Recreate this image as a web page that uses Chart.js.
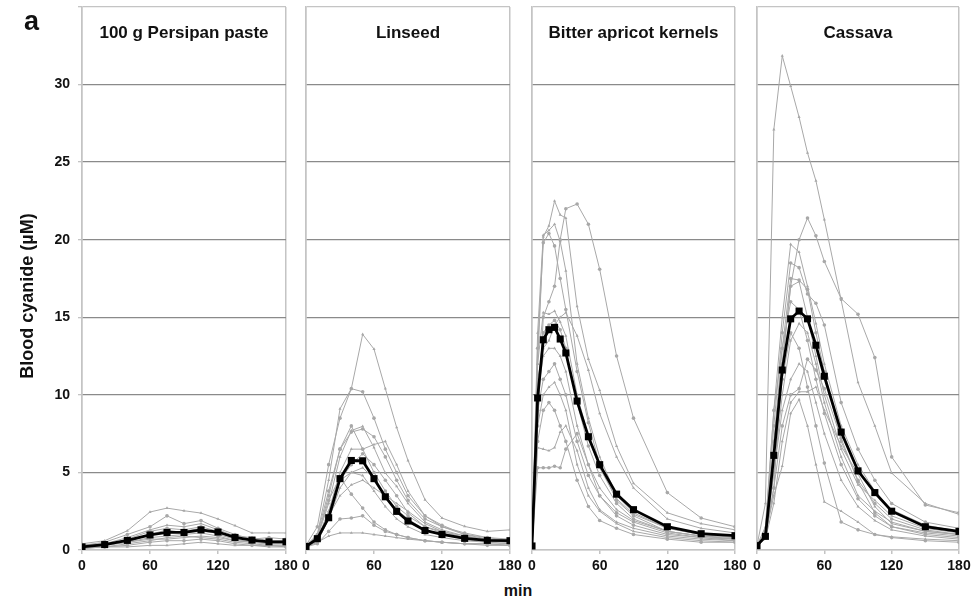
<!DOCTYPE html>
<html>
<head>
<meta charset="utf-8">
<script src="https://cdn.jsdelivr.net/npm/chart.js@4"></script>
<style>
  html, body { margin: 0; padding: 0; background: #fff; }
  #wrap { position: relative; width: 974px; height: 605px; overflow: hidden; font-family: "Liberation Sans", Arial, sans-serif; font-weight: bold; color: #111; }
  canvas { position: absolute; top: 0; }
  .ttl { position: absolute; top: 23px; font-size: 17px; text-align: center; white-space: nowrap; }
  #lab-a { position: absolute; left: 24px; top: 6px; font-size: 27px; }
  #ytitle { position: absolute; left: 27px; top: 296px; font-size: 18px; white-space: nowrap; transform: translate(-50%, -50%) rotate(-90deg); }
  #xtitle { position: absolute; left: 518px; top: 582px; font-size: 16px; transform: translateX(-50%); }
</style>
</head>
<body>
<div id="wrap">
  <canvas id="c0"></canvas><canvas id="c1"></canvas><canvas id="c2"></canvas><canvas id="c3"></canvas>
  <div id="lab-a">a</div>
  <div id="ytitle">Blood cyanide (µM)</div>
  <div id="xtitle">min</div>
</div>
<script>
// ---- data (µM blood cyanide vs. minutes after ingestion) ----
const TITLES = ['100 g Persipan paste', 'Linseed', 'Bitter apricot kernels', 'Cassava'];
const Y_TICKS = [0, 5, 10, 15, 20, 25, 30];
const X_TICKS = [0, 60, 120, 180];

const T_PERSIPAN = [0, 20, 40, 60, 75, 90, 105, 120, 135, 150, 165, 180];
const MEAN_PERSIPAN = [0.2, 0.35, 0.62, 0.97, 1.13, 1.13, 1.3, 1.16, 0.81, 0.64, 0.53, 0.53];
const SUBJ_PERSIPAN = [
  [0.4, 0.6, 1.24, 2.45, 2.7, 2.53, 2.38, 2.0, 1.57, 1.1, 1.1, 1.1],
  [0.3, 0.5, 1.0, 1.5, 2.2, 1.7, 1.9, 1.4, 1.0, 0.7, 0.8, 0.7],
  [0.3, 0.4, 0.8, 1.3, 1.6, 1.5, 1.7, 1.3, 0.9, 0.8, 0.6, 0.6],
  [0.2, 0.3, 0.7, 1.2, 1.4, 1.3, 1.5, 1.2, 0.8, 0.6, 0.5, 0.5],
  [0.2, 0.3, 0.5, 1.0, 1.1, 1.2, 1.4, 1.0, 0.7, 0.5, 0.5, 0.4],
  [0.2, 0.3, 0.5, 0.8, 0.9, 1.0, 1.1, 0.9, 0.6, 0.5, 0.4, 0.4],
  [0.2, 0.2, 0.4, 0.6, 0.8, 0.9, 0.8, 0.7, 0.5, 0.4, 0.3, 0.3],
  [0.1, 0.2, 0.3, 0.5, 0.6, 0.6, 0.7, 0.6, 0.4, 0.3, 0.3, 0.2],
  [0.1, 0.2, 0.2, 0.3, 0.3, 0.4, 0.5, 0.4, 0.3, 0.3, 0.2, 0.2],
  [0.2, 0.3, 0.6, 1.0, 1.3, 1.1, 1.2, 1.1, 0.8, 0.6, 0.5, 0.5],
  [0.3, 0.4, 0.5, 0.7, 0.7, 0.8, 0.9, 0.8, 0.6, 0.5, 0.4, 0.4],
];

const T_LINSEED = [0, 10, 20, 30, 40, 50, 60, 70, 80, 90, 105, 120, 140, 160, 180];
const MEAN_LINSEED = [0.23, 0.73, 2.08, 4.6, 5.77, 5.75, 4.6, 3.43, 2.49, 1.87, 1.26, 1.0, 0.75, 0.62, 0.6];
const SUBJ_LINSEED = [
  [0.3, 1.0, 4.5, 9.1, 10.4, 13.9, 12.95, 10.4, 7.9, 5.77, 3.24, 2.06, 1.52, 1.2, 1.3],
  [0.3, 1.5, 5.5, 8.5, 10.4, 10.2, 8.5, 6.5, 5.0, 3.5, 2.2, 1.6, 1.0, 0.7, 0.6],
  [0.2, 0.8, 3.0, 6.0, 7.7, 7.97, 6.6, 4.96, 4.1, 3.0, 1.8, 1.3, 0.9, 0.7, 0.6],
  [0.2, 0.8, 3.5, 6.5, 7.6, 7.8, 7.3, 6.0, 4.5, 3.2, 2.0, 1.5, 1.1, 0.8, 0.7],
  [0.2, 0.7, 2.5, 5.0, 6.5, 6.5, 6.8, 7.0, 5.5, 3.8, 2.2, 1.5, 1.0, 0.8, 0.6],
  [0.2, 0.5, 2.0, 4.5, 5.5, 6.2, 5.5, 4.5, 3.5, 2.4, 1.5, 1.1, 0.8, 0.6, 0.5],
  [0.2, 0.6, 2.5, 4.5, 5.0, 4.8, 3.8, 2.8, 2.0, 1.5, 1.0, 0.8, 0.6, 0.5, 0.4],
  [0.2, 0.9, 3.2, 4.7, 3.6, 2.7, 1.8, 1.3, 1.0, 0.8, 0.6, 0.5, 0.4, 0.4, 0.3],
  [0.2, 0.5, 0.9, 1.1, 1.1, 1.1, 1.0, 0.9, 0.8, 0.7, 0.6, 0.5, 0.4, 0.4, 0.3],
  [0.2, 0.4, 1.2, 2.0, 2.06, 2.2, 1.6, 1.2, 1.0, 0.8, 0.6, 0.5, 0.4, 0.3, 0.3],
  [0.2, 0.6, 2.0, 4.0, 5.0, 5.3, 4.6, 3.5, 2.6, 2.0, 1.3, 1.0, 0.7, 0.5, 0.4],
  [0.2, 1.0, 3.8, 6.5, 8.0, 6.5, 5.0, 3.8, 2.8, 2.2, 1.5, 1.2, 0.9, 0.6, 0.5],
  [0.2, 0.7, 2.2, 3.5, 4.2, 4.5, 4.0, 3.5, 3.0, 2.5, 1.7, 1.2, 0.8, 0.6, 0.5],
];

const T_APRICOT = [0, 5, 10, 15, 20, 25, 30, 40, 50, 60, 75, 90, 120, 150, 180];
const MEAN_APRICOT = [0.26, 9.8, 13.55, 14.2, 14.35, 13.6, 12.7, 9.6, 7.3, 5.5, 3.6, 2.6, 1.5, 1.05, 0.92];
const SUBJ_APRICOT = [
  [0.3, 12, 20.2, 20.9, 22.5, 21.6, 21.4, 15.7, 12.3, 10.3, 6.7, 4.3, 2.4, 1.7, 1.3],
  [0.3, 8, 15, 16, 17, 20, 22, 22.3, 21, 18.1, 12.5, 8.5, 3.7, 2.06, 1.5],
  [0.3, 14, 20.3, 20.6, 21, 19.9, 18, 12, 8.5, 6, 3.5, 2.4, 1.4, 1.0, 0.8],
  [0.3, 13, 19.8, 20.4, 19.6, 17.5, 15.5, 11.5, 8.2, 5.5, 3.2, 2.2, 1.2, 0.9, 0.7],
  [0.3, 12, 15.3, 15.2, 15.4, 14.7, 13.8, 10, 7.3, 5.3, 3.3, 2.3, 1.4, 1.0, 0.9],
  [0.3, 10, 14, 14.5, 14.8, 14.2, 13, 9.5, 6.7, 4.8, 3.0, 2.0, 1.2, 0.9, 0.8],
  [0.3, 6.6, 6.5, 6.4, 6.6, 7.6, 8.0, 6.4, 4.0, 2.6, 1.8, 1.4, 0.9, 0.7, 0.6],
  [0.3, 5.3, 5.3, 5.3, 5.4, 5.3, 6.5, 7.5, 5.5, 3.5, 2.2, 1.6, 1.0, 0.8, 0.6],
  [0.3, 11, 13, 13.5, 14.5, 15, 15.3, 13.8, 11.6, 8.8, 6.0, 4.0, 2.0, 1.4, 1.1],
  [0.3, 9, 11, 11.5, 12, 11, 10, 7, 4.8, 3.5, 2.4, 1.8, 1.1, 0.8, 0.7],
  [0.3, 8, 10, 10.5, 10.8, 10, 9, 5.5, 3.5, 2.5, 1.7, 1.2, 0.8, 0.6, 0.5],
  [0.3, 7, 9, 9.5, 9.0, 8.0, 7.0, 4.5, 2.8, 1.9, 1.4, 1.0, 0.7, 0.5, 0.5],
  [0.3, 10, 12.5, 13, 13, 12.5, 11.5, 8.0, 5.5, 4.0, 2.6, 1.9, 1.2, 0.9, 0.7],
];

const T_CASSAVA = [0, 7.5, 15, 22.5, 30, 37.5, 45, 52.5, 60, 75, 90, 105, 120, 150, 180];
const MEAN_CASSAVA = [0.28, 0.88, 6.1, 11.6, 14.9, 15.4, 14.9, 13.2, 11.2, 7.6, 5.1, 3.7, 2.5, 1.5, 1.2];
const SUBJ_CASSAVA = [
  [0.3, 3, 27.1, 31.85, 29.9, 27.9, 25.6, 23.8, 21.3, 16.1, 10.8, 8.0, 4.96, 3.0, 2.3],
  [0.3, 0.8, 4, 12, 17, 20, 21.4, 20.25, 18.6, 16.2, 15.2, 12.4, 6.0, 2.9, 2.4],
  [0.3, 1.5, 9, 15, 19.7, 19.2, 17, 14.6, 12, 8, 5.5, 3.8, 2.6, 1.6, 1.2],
  [0.3, 1.2, 8, 14, 18.5, 18.2, 16.5, 15.9, 14.5, 9.5, 6.5, 4.5, 3.0, 1.8, 1.4],
  [0.3, 0.8, 6, 12, 17, 17.3, 15, 12.5, 10, 6.5, 4.2, 3.2, 2.2, 1.4, 1.1],
  [0.3, 1.0, 7, 13, 17.5, 17.4, 16.8, 14, 11.5, 7.0, 4.5, 3.0, 2.0, 1.3, 1.0],
  [0.3, 1.0, 3.5, 5.4, 8.8, 9.7, 8.0, 5.5, 3.1, 2.5, 1.8, 1.0, 0.85, 0.7, 0.6],
  [0.3, 0.9, 4, 8, 10, 10.4, 12.3, 11.6, 10.4, 7.2, 4.4, 2.4, 1.5, 1.1, 0.9],
  [0.3, 0.7, 3, 7, 9.5, 10.2, 10.2, 10.5, 9.0, 6.7, 4.9, 2.8, 1.7, 1.2, 1.0],
  [0.3, 1.2, 9, 13, 16, 15.5, 13.5, 11, 8.8, 5.5, 3.3, 2.2, 1.5, 1.0, 0.8],
  [0.3, 0.9, 5, 10, 13.5, 14.6, 14, 12, 9.5, 6.0, 3.5, 2.5, 1.8, 1.2, 1.0],
  [0.3, 1.0, 6, 11, 14, 13, 10.5, 8, 5.6, 1.8, 1.3, 1.0, 0.8, 0.6, 0.5],
  [0.3, 0.8, 5, 9, 11, 12, 11.5, 9.5, 7.5, 4.5, 2.8, 1.9, 1.3, 0.9, 0.7],
];

// ---- layout: plot-area left/right edges of each panel ----
const PANELS = [
  { l: 82, r: 286, t: T_PERSIPAN, mean: MEAN_PERSIPAN, subj: SUBJ_PERSIPAN },
  { l: 306, r: 510, t: T_LINSEED, mean: MEAN_LINSEED, subj: SUBJ_LINSEED },
  { l: 532, r: 735, t: T_APRICOT, mean: MEAN_APRICOT, subj: SUBJ_APRICOT },
  { l: 757, r: 959, t: T_CASSAVA, mean: MEAN_CASSAVA, subj: SUBJ_CASSAVA },
];
const PLOT_TOP = 7, PLOT_BOTTOM = 550, CANVAS_H = 578, PAD_R = 14, PAD_L = 8;
const GRID = '#8a8a8a', FRAME = '#c4c4c4', SUBJ_COL = '#a8a8a8';
const FONT = { family: '"Liberation Sans", Arial, sans-serif', size: 14, weight: 'bold' };

const pts = (t, ys) => ys.map((y, i) => ({ x: t[i], y }));
// label overhang would otherwise shift the plot area; the fixed paddings cover it
const noPad = (s) => { s.paddingTop = 0; s.paddingBottom = 0; s.paddingLeft = 0; s.paddingRight = 0; };

PANELS.forEach((p, k) => {
  const first = k === 0;
  const cv = document.getElementById('c' + k);
  const left = first ? 0 : p.l - PAD_L;
  const w = p.r - left + PAD_R;
  cv.style.left = left + 'px';
  cv.style.width = w + 'px'; cv.style.height = CANVAS_H + 'px';
  cv.width = w; cv.height = CANVAS_H;

  // panel title sits inside the plot area
  const tt = document.createElement('div');
  tt.className = 'ttl'; tt.textContent = TITLES[k];
  tt.style.left = p.l + 'px'; tt.style.width = (p.r - p.l) + 'px';
  document.getElementById('wrap').appendChild(tt);

  const datasets = [{
    data: pts(p.t, p.mean), borderColor: '#000', backgroundColor: '#000', borderWidth: 2.8,
    pointStyle: 'rect', pointRadius: 5, pointBorderWidth: 0, tension: 0,
  }].concat(p.subj.map((s, j) => ({
    data: pts(p.t, s), borderColor: SUBJ_COL, backgroundColor: SUBJ_COL, borderWidth: 1,
    pointStyle: j % 2 ? 'circle' : 'triangle', pointRadius: 1.8, pointBorderWidth: 0, tension: 0,
  })));

  new Chart(cv, {
    type: 'line',
    data: { datasets },
    options: {
      responsive: false, animation: false, events: [],
      layout: { padding: { top: PLOT_TOP, right: PAD_R, left: first ? 0 : PAD_L, bottom: 0 } },
      plugins: { legend: { display: false }, tooltip: { enabled: false } },
      scales: {
        x: {
          type: 'linear', min: 0, max: 180,
          afterBuildTicks: (s) => { s.ticks = X_TICKS.map((v) => ({ value: v })); },
          afterFit: (s) => { s.height = CANVAS_H - PLOT_BOTTOM; noPad(s); },
          ticks: { color: '#111', font: FONT, padding: 4, maxRotation: 0, autoSkip: false },
          grid: {
            color: (c) => (c.tick && (c.tick.value === 0 || c.tick.value === 180) ? FRAME : 'rgba(0,0,0,0)'),
            tickColor: FRAME, tickLength: 4, lineWidth: 1.5,
          },
          border: { color: FRAME, width: 1.5 },
        },
        y: {
          type: 'linear', min: 0, max: 35,
          afterBuildTicks: (s) => { s.ticks = Y_TICKS.concat([35]).map((v) => ({ value: v })); },
          afterFit: (s) => { s.width = first ? p.l : 0; noPad(s); },
          ticks: { display: first, color: '#111', font: FONT, padding: 8, callback: (v) => (v === 35 ? '' : v) },
          grid: {
            color: (c) => (c.tick && (c.tick.value === 0 || c.tick.value === 35) ? FRAME : GRID),
            lineWidth: 1.3, drawTicks: first, tickColor: FRAME, tickLength: 4,
          },
          border: { color: FRAME, width: 1.5 },
        },
      },
    },
  });
});
</script>
</body>
</html>
